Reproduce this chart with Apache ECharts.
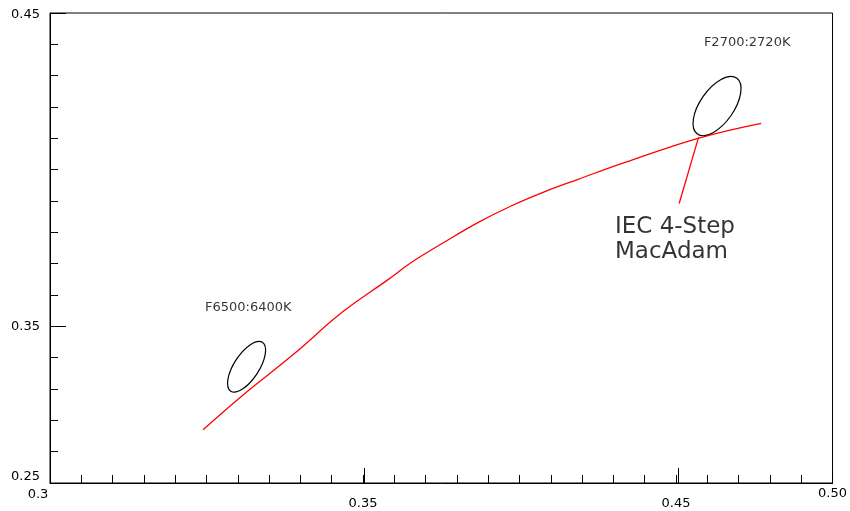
<!DOCTYPE html>
<html>
<head>
<meta charset="utf-8">
<script src="https://cdn.jsdelivr.net/npm/echarts@6/dist/echarts.min.js"></script>
<style>
  html, body { margin: 0; padding: 0; background: #fff; }
  #chart { width: 850px; height: 511px; }
</style>
</head>
<body>
<div id="chart"></div>
<script>
// planckian locus (red curve)
const locusX = [0.2989, 0.3117, 0.3276, 0.3436, 0.3580, 0.3653, 0.3762, 0.3867, 0.3973, 0.4081, 0.4187, 0.4337, 0.4570, 0.4772];
const locusY = [0.3170, 0.3281, 0.3409, 0.3547, 0.3649, 0.3703, 0.3770, 0.3831, 0.3884, 0.3930, 0.3969, 0.4023, 0.4100, 0.4148];

// pointer line from the label to the ellipse
const pointerX = [0.4510, 0.4572];
const pointerY = [0.3892, 0.4103];

// MacAdam ellipses: centre, semi axes (x units), tilt in degrees
const ellipseNames = ['F6500', 'F2700'];
const ellipseCx = [0.3128, 0.4631];
const ellipseCy = [0.3371, 0.4203];
const ellipseA = [0.0093, 0.0109];
const ellipseB = [0.0040, 0.0054];
const ellipseTilt = [57, 55];

// annotation texts
const noteText = ['F6500:6400K', 'F2700:2720K', 'IEC 4-Step\nMacAdam'];
const noteX = [0.2995, 0.4589, 0.4305];
const noteY = [0.3560, 0.4407, 0.3776];
const noteSize = [13, 13, 23];

// tick labels (as printed on the original)
const xLabelAt = [0.25, 0.35, 0.45, 0.50];
const xLabelText = ['0.3', '0.35', '0.45', '0.50'];
const yLabelAt = [0.30, 0.35, 0.45];
const yLabelText = ['0.25', '0.35', '0.45'];
const longTicksX = [0.35, 0.45];
const longTicksY = [0.35, 0.45];

const font = "'DejaVu Sans ExtraLight', 'DejaVu Sans'";

function pick(v, at, txt) {
  for (let i = 0; i < at.length; i++) {
    if (Math.abs(v - at[i]) < 1e-6) return txt[i];
  }
  return '';
}

const chart = echarts.init(document.getElementById('chart'));

const gridBox = { left: 50, right: 15, top: 13, bottom: 28 };

const option = {
  animation: false,
  backgroundColor: '#fff',
  grid: [
    Object.assign({ show: true, borderColor: '#000', borderWidth: 1 }, gridBox),
    Object.assign({ show: false }, gridBox)
  ],
  xAxis: [
    {
      type: 'value', gridIndex: 0, min: 0.25, max: 0.50, interval: 0.01,
      axisLine: { lineStyle: { color: '#000', width: 1 } },
      axisTick: { inside: true, length: 8, lineStyle: { color: '#000' } },
      splitLine: { show: false },
      axisLabel: {
        customValues: xLabelAt,
        margin: 21,
        verticalAlign: 'middle',
        color: '#000',
        fontFamily: font,
        fontSize: 13,
        formatter: function (v) {
          const t = pick(v, xLabelAt, xLabelText);
          if (Math.abs(v - 0.25) < 1e-6) return '{lo|' + t + '}';
          if (Math.abs(v - 0.50) < 1e-6) return '{hi|' + t + '}';
          return t;
        },
        rich: {
          lo: { fontFamily: font, fontSize: 13, color: '#000', padding: [0, 24, 18, 0] },
          hi: { fontFamily: font, fontSize: 13, color: '#000', padding: [0, 0, 20, 0] }
        }
      }
    },
    {
      type: 'value', gridIndex: 1, min: 0.25, max: 0.50,
      axisLine: { show: false },
      axisTick: { inside: true, length: 15, customValues: longTicksX, lineStyle: { color: '#000' } },
      axisLabel: { show: false },
      splitLine: { show: false }
    }
  ],
  yAxis: [
    {
      type: 'value', gridIndex: 0, min: 0.30, max: 0.45, interval: 0.01,
      axisLine: { show: true, lineStyle: { color: '#000', width: 1 } },
      axisTick: { show: true, inside: true, length: 8, lineStyle: { color: '#000' } },
      splitLine: { show: false },
      axisLabel: {
        customValues: yLabelAt,
        margin: 10,
        color: '#000',
        fontFamily: font,
        fontSize: 13,
        formatter: function (v) {
          const t = pick(v, yLabelAt, yLabelText);
          if (Math.abs(v - 0.30) < 1e-6) return '{lo|' + t + '}';
          if (Math.abs(v - 0.45) < 1e-6) return '{top|' + t + '}';
          return t;
        },
        rich: {
          lo: { fontFamily: font, fontSize: 13, color: '#000', padding: [0, 0, 12, 0] },
          top: { fontFamily: font, fontSize: 13, color: '#000', padding: [4, 0, 0, 0] }
        }
      }
    },
    {
      type: 'value', gridIndex: 1, min: 0.30, max: 0.45,
      axisLine: { show: false },
      axisTick: { show: true, inside: true, length: 16, customValues: longTicksY, lineStyle: { color: '#000' } },
      axisLabel: { show: false },
      splitLine: { show: false }
    }
  ],
  series: [
    {
      name: 'locus',
      type: 'line',
      data: locusX.map((x, i) => [x, locusY[i]]),
      smooth: 0.4,
      showSymbol: false,
      lineStyle: { color: '#ff0000', width: 1.3 }
    },
    {
      name: 'pointer',
      type: 'line',
      data: pointerX.map((x, i) => [x, pointerY[i]]),
      showSymbol: false,
      lineStyle: { color: '#ff0000', width: 1.3 }
    },
    {
      name: 'ellipses',
      type: 'custom',
      data: ellipseNames.map((n, i) => [ellipseCx[i], ellipseCy[i], ellipseA[i], ellipseB[i], ellipseTilt[i]]),
      renderItem: function (params, api) {
        const c = api.coord([api.value(0), api.value(1)]);
        const rx = api.size([api.value(2), 0])[0];
        const ry = api.size([api.value(3), 0])[0];
        return {
          type: 'ellipse',
          x: c[0],
          y: c[1],
          rotation: api.value(4) * Math.PI / 180,
          shape: { cx: 0, cy: 0, rx: rx, ry: ry },
          style: { fill: 'none', stroke: '#000', lineWidth: 1.2 }
        };
      }
    },
    {
      name: 'notes',
      type: 'scatter',
      symbolSize: 0,
      data: noteText.map((t, i) => ({
        value: [noteX[i], noteY[i]],
        label: {
          show: true,
          position: 'right',
          distance: 0,
          formatter: t,
          color: '#000',
          fontFamily: font,
          fontSize: noteSize[i],
          lineHeight: noteSize[i] > 20 ? 25 : 16
        }
      }))
    }
  ]
};

chart.setOption(option);
</script>
</body>
</html>
